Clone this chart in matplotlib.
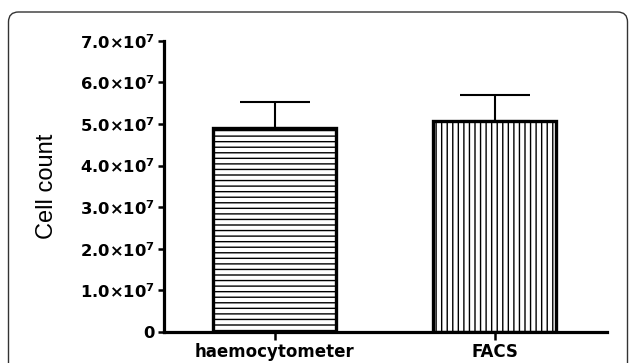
import matplotlib
matplotlib.use("Agg")
import matplotlib.pyplot as plt
import matplotlib.transforms as mtransforms
from matplotlib.patches import FancyBboxPatch

# Data
categories = ["haemocytometer", "FACS"]
means = [4.91e7, 5.06e7]
sd = [0.61e7, 0.64e7]
hatches = ["---", "|||"]
ytick_values = [0, 1e7, 2e7, 3e7, 4e7, 5e7, 6e7, 7e7]
ytick_labels = ["0",
                r"$\mathbf{1.0{\times}10^{7}}$", r"$\mathbf{2.0{\times}10^{7}}$",
                r"$\mathbf{3.0{\times}10^{7}}$", r"$\mathbf{4.0{\times}10^{7}}$",
                r"$\mathbf{5.0{\times}10^{7}}$", r"$\mathbf{6.0{\times}10^{7}}$",
                r"$\mathbf{7.0{\times}10^{7}}$"]

plt.rcParams["hatch.linewidth"] = 1.0
plt.rcParams["mathtext.fontset"] = "dejavusans"

fig = plt.figure(figsize=(6.29, 3.63), dpi=100)
ax = fig.add_axes([0.2607, 0.0854, 0.9650 - 0.2607, 0.888 - 0.0854])

x = list(range(len(categories)))

# upper-only error bars
ax.errorbar(x, means, yerr=[[0] * len(sd), sd], fmt="none", ecolor="black",
            elinewidth=1.5, capsize=25.5, capthick=1.5, zorder=1)

bars = ax.bar(x, means, width=0.56, color="white", edgecolor="black",
              linewidth=2.4, zorder=2)
for b, h in zip(bars, hatches):
    b.set_hatch(h)

ax.set_xlim(-0.505, 1.511)
ax.set_ylim(0, 7e7)

ax.spines["top"].set_visible(False)
ax.spines["right"].set_visible(False)
ax.spines["left"].set_linewidth(2.3)
ax.spines["bottom"].set_linewidth(2.3)

ax.set_yticks(ytick_values)
ax.set_yticklabels(ytick_labels, fontsize=11.8, fontweight="bold",
                   family="DejaVu Sans")
ax.set_xticks(x)
ax.set_xticklabels(categories, fontsize=12, fontweight="bold",
                   family="DejaVu Sans")
ax.tick_params(axis="y", length=4.5, width=1.8, pad=2)
ax.tick_params(axis="x", length=5.8, width=1.8, pad=2)

ax.set_ylabel("Cell count", fontsize=17, family="Liberation Sans",
              labelpad=16)

# rounded outer frame
frame = FancyBboxPatch((8.5, -30), 619, 363 - 12 + 30,
                       boxstyle="round,pad=0,rounding_size=10",
                       transform=mtransforms.IdentityTransform(),
                       facecolor="none", edgecolor="#333333", linewidth=1.0)
fig.add_artist(frame)

fig.savefig("out.png", dpi=100)
